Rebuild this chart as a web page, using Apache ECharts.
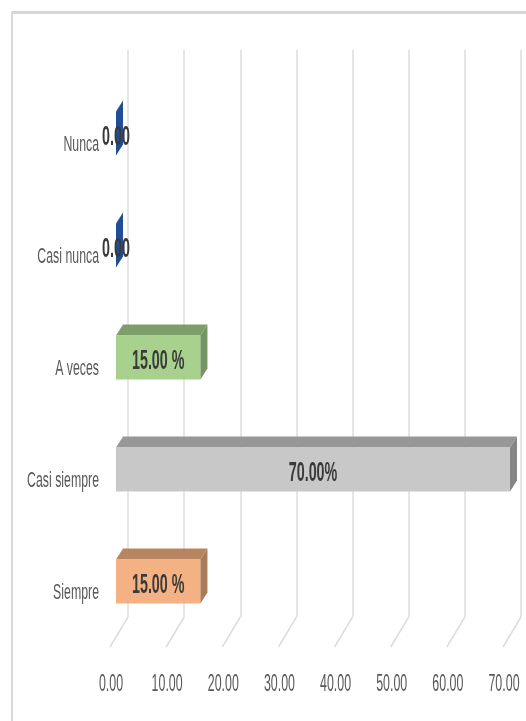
<!DOCTYPE html>
<html><head><meta charset="utf-8">
<style>html,body{margin:0;padding:0;background:#fff}#c{width:526px;height:721px}</style>
<script src="https://cdn.jsdelivr.net/npm/echarts@6/dist/echarts.min.js"></script>
</head><body><div id="c"></div>
<script>
const categories = ['Nunca','Casi nunca','A veces','Casi siempre','Siempre'];
const values = [0,0,15,70,15];
const valueLabels = ['0.00','0.00','15.00 %','70.00%','15.00 %'];
const frontColors = ['#1f4e96','#1f4e96','#a9d18e','#c8c8c8','#f4b183'];
const topColors = ['#1f4e96','#1f4e96','#7f9d6b','#979797','#b7855f'];
const sideColors = ['#1f4e96','#1f4e96','#769562','#868686','#a97b58'];
const ticks = [0,10,20,30,40,50,60,70];

const FONT = '"Liberation Sans",sans-serif';
const DX = 7, DY = 11, H = 44, SHIFT = 11.5;

const chart = echarts.init(document.getElementById('c'), null, {renderer:'canvas'});
const hiddenY = i => ({gridIndex:i,type:'value',min:0,max:1,show:false});
const valueX = (i, extra) => Object.assign({gridIndex:i,type:'value',min:0,max:70,interval:10,
  axisLine:{show:false},axisTick:{show:false},axisLabel:{show:false},splitLine:{show:false}}, extra);

chart.setOption({
  animation:false,
  backgroundColor:'#fff',
  graphic:[
    {type:'rect',shape:{x:11,y:11,width:515,height:3},style:{fill:'#d6d6d6'},silent:true},
    {type:'rect',shape:{x:11,y:11,width:2,height:710},style:{fill:'#d9d9d9'},silent:true}
  ],
  grid:[
    {left:128,top:50,width:393,height:567,outerBoundsMode:'none'},
    {left:116,top:89,width:394,height:560,outerBoundsMode:'none'},
    {left:110,top:617,width:393,height:30,outerBoundsMode:'none'}
  ],
  xAxis:[
    valueX(0,{splitLine:{show:true,lineStyle:{color:'#dcdcdc',width:1.5}}}),
    valueX(1),
    valueX(2)
  ],
  yAxis:[
    hiddenY(0),
    {gridIndex:1,type:'category',inverse:true,data:categories,
      axisLine:{show:false},axisTick:{show:false},splitLine:{show:false},axisLabel:{show:false}},
    hiddenY(2)
  ],
  series:[
    {type:'custom',xAxisIndex:2,yAxisIndex:2,z:1,silent:true,
      data:ticks.map(t=>[t]),
      encode:{x:0},
      renderItem:(p,api)=>{
        const a=api.coord([api.value(0),0]);
        const b=api.coord([api.value(0),1]);
        return {type:'group',children:[
          {type:'line',shape:{x1:a[0],y1:a[1],x2:b[0]+18,y2:b[1]},
            style:{stroke:'#dcdcdc',lineWidth:1.5,fill:null}},
          {type:'text',x:a[0]+1,y:a[1]+38,scaleX:0.54,
            style:{text:api.value(0).toFixed(2),x:0,y:0,align:'center',verticalAlign:'middle',
              fill:'#595959',font:'23px '+FONT}}
        ]};
      }},
    {type:'custom',xAxisIndex:1,yAxisIndex:1,z:3,silent:true,
      data:values.map((v,i)=>[v,i]),
      encode:{x:0,y:1},
      renderItem:(p,api)=>{
        const i=p.dataIndex;
        const c0=api.coord([0,i]);
        const c1=api.coord([api.value(0),i]);
        const x0=c0[0],x1=c1[0];
        const y0=c0[1]-SHIFT-H/2,y1=y0+H;
        const poly=(pts,fill)=>({type:'polygon',shape:{points:pts},style:{fill:fill}});
        const kids=[];
        if(x1>x0){
          kids.push(poly([[x0,y0],[x1,y0],[x1+DX,y0-DY],[x0+DX,y0-DY]],topColors[i]));
          kids.push({type:'rect',shape:{x:x0,y:y0,width:x1-x0,height:H},style:{fill:frontColors[i]}});
        }
        kids.push(poly([[x1,y0],[x1+DX,y0-DY],[x1+DX,y1-DY],[x1,y1]],sideColors[i]));
        kids.push({type:'text',x:(x0+x1)/2,y:(y0+y1)/2+4,scaleX:0.53,
          style:{text:valueLabels[i],x:0,y:0,align:'center',verticalAlign:'middle',
            fill:'#3a3a3a',font:'bold 27px '+FONT}});
        kids.push({type:'text',x:99,y:c0[1],scaleX:0.56,
          style:{text:categories[i],x:0,y:0,align:'right',verticalAlign:'middle',
            fill:'#595959',font:'22px '+FONT}});
        return {type:'group',children:kids};
      }}
  ]
});
</script></body></html>
